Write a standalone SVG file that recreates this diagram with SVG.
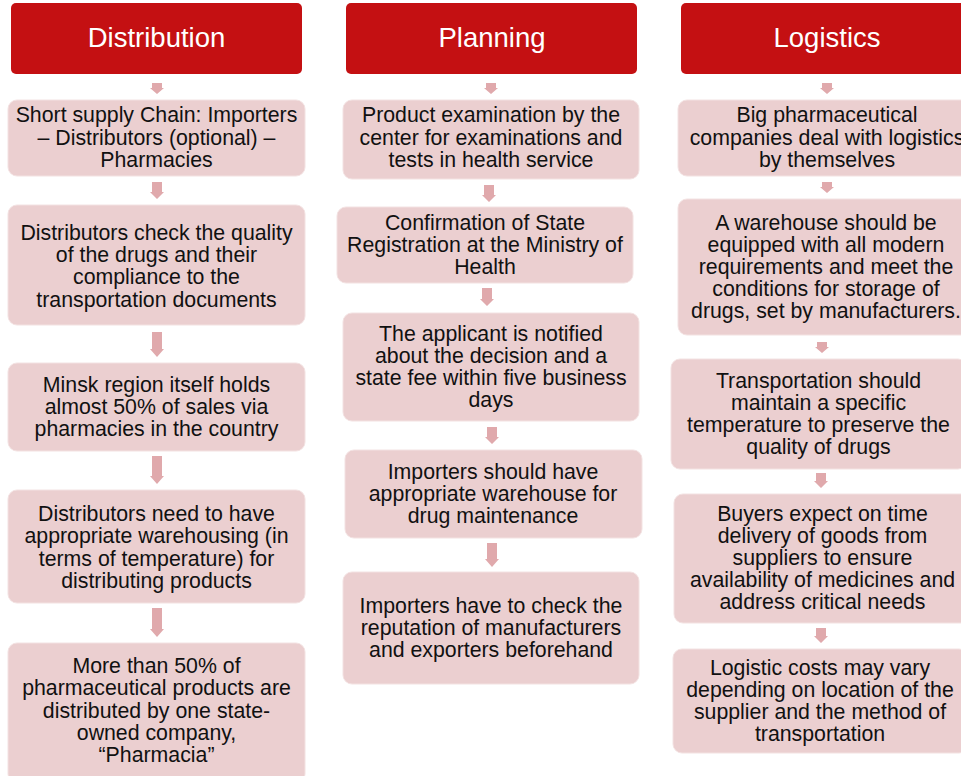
<svg xmlns="http://www.w3.org/2000/svg" width="961" height="776" viewBox="0 0 961 776">
<style>
.hdr{fill:#C41012}
.hdr-t{fill:#fff;font-family:"Liberation Sans",Arial,sans-serif;font-size:27.5px;text-anchor:middle}
.box{fill:#EBCFD0;stroke:#F3E2E2;stroke-width:1}
.t{fill:#111;font-family:"Liberation Sans",Arial,sans-serif;font-size:21.3px;text-anchor:middle}
.arr{fill:#E0A9AC}
</style>
<rect width="961" height="776" fill="#fff"/>
<g id="connectors">
<path class="arr" d="M152,83h10v5h2l-7,6l-7,-6h2z"/>
<path class="arr" d="M152,182h10v10h2l-7,7l-7,-7h2z"/>
<path class="arr" d="M152,332h10v17h2l-7,8l-7,-8h2z"/>
<path class="arr" d="M152,456h10v20h2l-7,8l-7,-8h2z"/>
<path class="arr" d="M152,608h10v21h2l-7,8l-7,-8h2z"/>
<path class="arr" d="M486,83h10v5h2l-7,6l-7,-6h2z"/>
<path class="arr" d="M484,185h10v10h2l-7,7l-7,-7h2z"/>
<path class="arr" d="M482,288h10v11h2l-7,7l-7,-7h2z"/>
<path class="arr" d="M487,427h10v10h2l-7,7l-7,-7h2z"/>
<path class="arr" d="M487,543h10v16h2l-7,8l-7,-8h2z"/>
<path class="arr" d="M822,83h10v5h2l-7,6l-7,-6h2z"/>
<path class="arr" d="M822,182h10v5h2l-7,6l-7,-6h2z"/>
<path class="arr" d="M817,342h10v5h2l-7,6l-7,-6h2z"/>
<path class="arr" d="M816,473h10v8h2l-7,7l-7,-7h2z"/>
<path class="arr" d="M816,628h10v8h2l-7,7l-7,-7h2z"/>
</g>
<g id="h-distribution"><rect class="hdr" x="11" y="3" width="291" height="71" rx="5"/><text class="hdr-t" x="156.5" y="47">Distribution</text></g>
<g id="h-planning"><rect class="hdr" x="346" y="3" width="291" height="71" rx="5"/><text class="hdr-t" x="492" y="47">Planning</text></g>
<g id="h-logistics"><rect class="hdr" x="681" y="3" width="292" height="71" rx="5"/><text class="hdr-t" x="827" y="47">Logistics</text></g>

<g id="d1"><rect class="box" x="8" y="100" width="297" height="76" rx="9"/><text class="t"><tspan x="156.5" y="122.3">Short supply Chain: Importers</tspan><tspan x="156.5" y="144.7">– Distributors (optional) –</tspan><tspan x="156.5" y="167">Pharmacies</tspan></text></g>
<g id="d2"><rect class="box" x="8" y="205" width="297" height="120" rx="9"/><text class="t"><tspan x="156.5" y="239.5">Distributors check the quality</tspan><tspan x="156.5" y="261.9">of the drugs and their</tspan><tspan x="156.5" y="284.3">compliance to the</tspan><tspan x="156.5" y="306.7">transportation documents</tspan></text></g>
<g id="d3"><rect class="box" x="8" y="363" width="297" height="88" rx="9"/><text class="t"><tspan x="156.5" y="392">Minsk region itself holds</tspan><tspan x="156.5" y="414">almost 50% of sales via</tspan><tspan x="156.5" y="436">pharmacies in the country</tspan></text></g>
<g id="d4"><rect class="box" x="8" y="490" width="297" height="113" rx="9"/><text class="t"><tspan x="156.5" y="521">Distributors need to have</tspan><tspan x="156.5" y="543.3">appropriate warehousing (in</tspan><tspan x="156.5" y="565.6">terms of temperature) for</tspan><tspan x="156.5" y="587.9">distributing products</tspan></text></g>
<g id="d5"><rect class="box" x="8" y="643" width="297" height="140" rx="9"/><text class="t"><tspan x="156.5" y="673">More than 50% of</tspan><tspan x="156.5" y="695.3">pharmaceutical products are</tspan><tspan x="156.5" y="717.6">distributed by one state-</tspan><tspan x="156.5" y="739.9">owned company,</tspan><tspan x="156.5" y="762.2">“Pharmacia”</tspan></text></g>

<g id="p1"><rect class="box" x="343" y="100" width="296" height="79" rx="9"/><text class="t"><tspan x="491" y="122.3">Product examination by the</tspan><tspan x="491" y="144.7">center for examinations and</tspan><tspan x="491" y="167">tests in health service</tspan></text></g>
<g id="p2"><rect class="box" x="337" y="207" width="296" height="76" rx="9"/><text class="t"><tspan x="485" y="230">Confirmation of State</tspan><tspan x="485" y="252">Registration at the Ministry of</tspan><tspan x="485" y="274">Health</tspan></text></g>
<g id="p3"><rect class="box" x="343" y="313" width="296" height="108" rx="9"/><text class="t"><tspan x="491" y="341">The applicant is notified</tspan><tspan x="491" y="363">about the decision and a</tspan><tspan x="491" y="385">state fee within five business</tspan><tspan x="491" y="407">days</tspan></text></g>
<g id="p4"><rect class="box" x="345" y="450" width="297" height="88" rx="9"/><text class="t"><tspan x="493" y="479">Importers should have</tspan><tspan x="493" y="501">appropriate warehouse for</tspan><tspan x="493" y="523">drug maintenance</tspan></text></g>
<g id="p5"><rect class="box" x="343" y="572" width="296" height="112" rx="9"/><text class="t"><tspan x="491" y="612.5">Importers have to check the</tspan><tspan x="491" y="634.5">reputation of manufacturers</tspan><tspan x="491" y="656.5">and exporters beforehand</tspan></text></g>

<g id="l1"><rect class="box" x="678" y="100" width="298" height="76" rx="9"/><text class="t"><tspan x="827" y="122.3">Big pharmaceutical</tspan><tspan x="827" y="144.7">companies deal with logistics</tspan><tspan x="827" y="167">by themselves</tspan></text></g>
<g id="l2"><rect class="box" x="678" y="199" width="296" height="136" rx="9"/><text class="t"><tspan x="826" y="230">A warehouse should be</tspan><tspan x="826" y="252">equipped with all modern</tspan><tspan x="826" y="274">requirements and meet the</tspan><tspan x="826" y="296">conditions for storage of</tspan><tspan x="826" y="318">drugs, set by manufacturers.</tspan></text></g>
<g id="l3"><rect class="box" x="671" y="359" width="296" height="110" rx="9"/><text class="t"><tspan x="818.5" y="388">Transportation should</tspan><tspan x="818.5" y="410">maintain a specific</tspan><tspan x="818.5" y="432">temperature to preserve the</tspan><tspan x="818.5" y="454">quality of drugs</tspan></text></g>
<g id="l4"><rect class="box" x="674" y="494" width="297" height="129" rx="9"/><text class="t"><tspan x="822.5" y="521">Buyers expect on time</tspan><tspan x="822.5" y="543">delivery of goods from</tspan><tspan x="822.5" y="565">suppliers to ensure</tspan><tspan x="822.5" y="587">availability of medicines and</tspan><tspan x="822.5" y="609">address critical needs</tspan></text></g>
<g id="l5"><rect class="box" x="673" y="649" width="295" height="104" rx="9"/><text class="t"><tspan x="820" y="675">Logistic costs may vary</tspan><tspan x="820" y="697">depending on location of the</tspan><tspan x="820" y="719">supplier and the method of</tspan><tspan x="820" y="741">transportation</tspan></text></g>
</svg>
